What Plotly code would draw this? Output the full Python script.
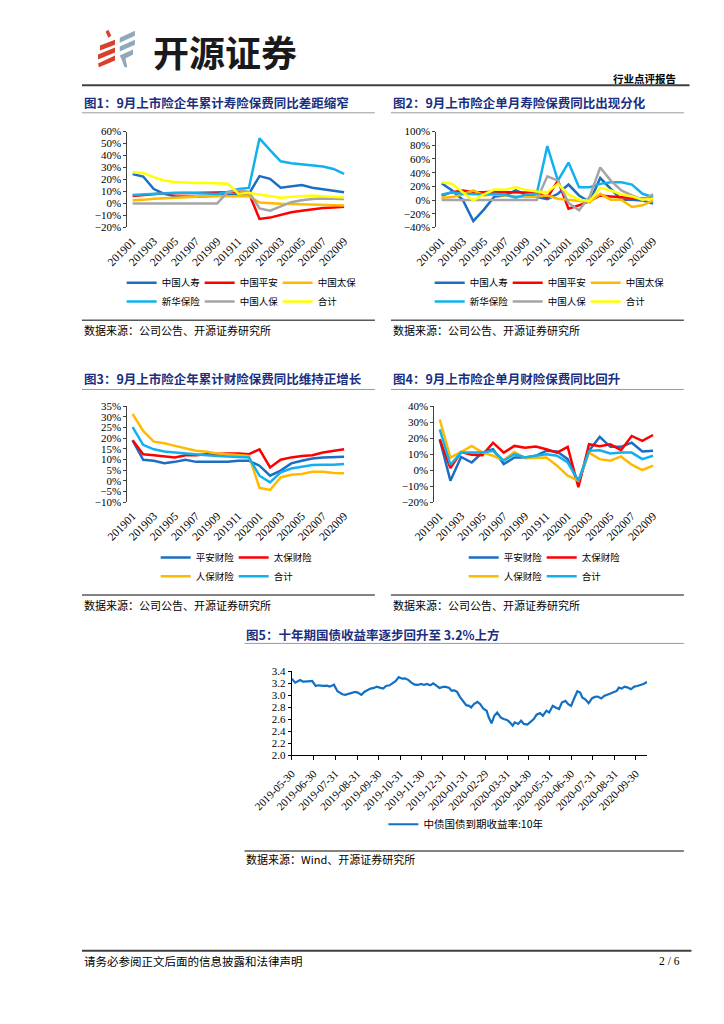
import plotly.graph_objects as go

# Page is 724x1024; the browser's default 8px body margin surrounds the figure,
# so the figure is 708x1008 and page coordinates are shifted by 8px.
PAGE_W, PAGE_H, OFF = 724, 1024, 8
W, H = PAGE_W - 2 * OFF, PAGE_H - 2 * OFF
def PX(x): return (x - OFF) / W
def PY(y): return 1 - (y - OFF) / H

# ---------------- data ----------------
months = ['201901', '201902', '201903', '201904', '201905', '201906', '201907',
          '201908', '201909', '201910', '201911', '201912', '202001', '202002',
          '202003', '202004', '202005', '202006', '202007', '202008', '202009']
tick_months = ['201901', '201903', '201905', '201907', '201909', '201911',
               '202001', '202003', '202005', '202007', '202009']

life_names = ['中国人寿', '中国平安', '中国太保', '新华保险', '中国人保', '合计']
pc_names = ['平安财险', '太保财险', '人保财险', '合计']

# Fig 1: cumulative life premium YoY (%)
c1_clife = [24.5, 22.5, 12.0, 8.0, 6.0, 5.5, 5.5, 6.0, 6.5, 7.0, 7.0, 8.0, 22.8, 20.6, 13.2, 14.6, 15.4, 13.2, 12.1, 11.0, 9.3]
c1_pingan = [6.3, 7.0, 8.2, 8.5, 8.5, 8.8, 9.0, 9.0, 9.2, 9.3, 9.3, 8.5, -12.9, -11.8, -9.6, -7.4, -6.0, -4.7, -3.8, -3.3, -2.7]
c1_cpic = [2.7, 3.0, 4.0, 4.5, 5.0, 5.5, 6.0, 6.0, 6.0, 6.0, 6.0, 6.0, 0.8, 0.0, -0.3, -0.5, -0.8, -1.0, -1.2, -1.5, -1.8]
c1_nci = [7.0, 7.5, 8.5, 9.0, 9.0, 9.0, 8.5, 8.0, 8.0, 9.5, 12.0, 13.0, 54.4, 44.5, 35.2, 33.5, 32.4, 31.6, 30.8, 28.8, 24.7]
c1_picc = [0, 0, 0, 0, 0, 0, 0, 0, 0, 9.6, 11.0, 9.6, -4.1, -6.0, -2.2, 1.1, 2.7, 3.8, 4.1, 3.8, 3.8]
c1_total = [26.1, 25.5, 22.0, 19.2, 17.9, 17.3, 17.0, 17.0, 17.0, 16.5, 8.2, 8.8, 7.4, 6.0, 4.7, 5.5, 6.3, 6.6, 6.0, 5.5, 4.9]

# Fig 2: monthly life premium YoY (%)
c2_clife = [24.5, 14.0, 0.5, -30.8, -14.0, 5.3, 6.7, 14.0, 7.7, 4.3, 1.4, 9.1, 22.6, 6.7, -2.9, 32.2, 16.3, 0.5, 0.5, -0.5, -5.3]
c2_pingan = [6.7, 11.5, 14.0, 11.5, 11.5, 12.5, 11.5, 11.5, 11.5, 10.6, 3.4, 28.4, -12.5, -7.7, -1.4, 6.7, 5.3, 4.3, 3.4, 1.9, 3.4]
c2_cpic = [3.4, 4.3, 8.2, 14.0, 6.7, 8.2, 6.7, 5.3, 4.3, 5.3, 6.7, 1.9, 0.5, -1.4, -2.9, 9.1, 0.5, 0.5, -10.1, -7.7, -0.5]
c2_nci = [7.7, 11.5, 9.1, 8.2, 8.2, 9.1, 8.2, 3.4, 8.2, 9.1, 78.8, 28.4, 54.8, 18.8, 18.8, 23.6, 26.0, 26.0, 22.6, 9.1, 4.3]
c2_picc = [0, 0, 0, 0, 0, 0, 0, 0, 0, 0, 34.6, 28.4, -4.3, -14.9, 5.0, 47.6, 28.4, 14.0, 6.7, 0.5, 8.2]
c2_total = [26.0, 23.6, 11.5, -0.5, 8.2, 15.4, 14.9, 18.8, 14.9, 12.5, 11.5, 23.6, 8.2, 0.5, -1.4, 17.8, 14.0, 8.2, 5.3, 0.5, 1.9]

# Fig 3: cumulative P&C premium YoY (%)
c3_pa = [19.0, 9.9, 9.4, 8.3, 8.9, 9.9, 8.9, 8.9, 8.6, 8.9, 9.4, 9.4, 7.1, 2.4, 4.8, 8.2, 9.4, 10.5, 11.0, 11.0, 11.3]
c3_cpic = [19.0, 12.5, 12.0, 11.4, 11.0, 12.0, 12.0, 12.5, 12.8, 12.8, 12.8, 12.5, 14.8, 6.3, 9.9, 11.0, 11.7, 12.0, 13.3, 14.1, 14.8]
c3_picc = [31.4, 23.4, 18.4, 17.6, 16.4, 15.2, 14.1, 13.6, 12.8, 12.5, 12.0, 11.7, -3.3, -4.3, 1.6, 2.8, 3.2, 4.3, 4.3, 3.7, 3.5]
c3_total = [25.2, 16.9, 14.8, 13.8, 13.3, 12.8, 12.2, 12.0, 11.7, 11.4, 11.3, 11.0, 2.4, -0.7, 4.0, 5.8, 6.6, 7.4, 7.5, 7.5, 7.9]

# Fig 4: monthly P&C premium YoY (%)
c4_pa = [19.3, -6.6, 8.3, 4.8, 11.0, 13.1, 3.8, 7.9, 7.9, 9.0, 12.1, 11.7, 6.9, -8.2, 12.1, 20.8, 14.6, 14.6, 17.2, 11.7, 12.1]
c4_cpic = [19.3, 1.3, 11.4, 9.6, 9.4, 17.2, 11.0, 15.2, 14.1, 14.8, 13.1, 11.0, 14.6, -10.7, 16.2, 15.0, 16.2, 12.5, 21.4, 18.3, 22.0]
c4_picc = [31.7, 7.9, 11.4, 15.2, 11.0, 9.0, 6.3, 11.4, 7.5, 7.5, 7.9, 2.8, -3.4, -6.6, 11.0, 6.9, 5.9, 8.6, 3.4, 0.1, 2.8]
c4_total = [25.5, 3.4, 11.0, 11.0, 11.0, 12.1, 5.9, 10.0, 7.9, 9.0, 10.0, 9.0, 4.8, -6.6, 12.1, 12.5, 10.4, 11.0, 11.0, 6.9, 9.0]

# Fig 5: 10Y China government bond yield (%)
bond_dates = ['2019-05-30', '2019-06-04', '2019-06-11', '2019-06-15', '2019-06-22', '2019-06-28',
              '2019-07-03', '2019-07-07', '2019-07-14', '2019-07-19', '2019-07-23', '2019-07-29',
              '2019-08-03', '2019-08-10', '2019-08-14', '2019-08-19', '2019-08-23', '2019-08-28',
              '2019-09-01', '2019-09-06', '2019-09-10', '2019-09-15', '2019-09-19', '2019-09-24',
              '2019-09-28', '2019-10-02', '2019-10-07', '2019-10-11', '2019-10-16', '2019-10-20',
              '2019-10-25', '2019-10-29', '2019-11-03', '2019-11-07', '2019-11-12', '2019-11-16',
              '2019-11-21', '2019-11-25', '2019-11-30', '2019-12-04', '2019-12-08', '2019-12-13',
              '2019-12-17', '2019-12-22', '2019-12-26', '2019-12-31', '2020-01-04', '2020-01-09',
              '2020-01-12', '2020-01-16', '2020-01-20', '2020-01-24', '2020-01-29', '2020-02-02',
              '2020-02-06', '2020-02-09', '2020-02-13', '2020-02-18', '2020-02-22', '2020-02-26',
              '2020-03-02', '2020-03-05', '2020-03-09', '2020-03-13', '2020-03-17', '2020-03-22',
              '2020-03-26', '2020-03-31', '2020-04-04', '2020-04-08', '2020-04-11', '2020-04-16',
              '2020-04-20', '2020-04-24', '2020-04-29', '2020-05-03', '2020-05-08', '2020-05-12',
              '2020-05-17', '2020-05-21', '2020-05-26', '2020-05-30', '2020-06-04', '2020-06-08',
              '2020-06-13', '2020-06-17', '2020-06-22', '2020-06-26', '2020-06-30', '2020-07-05',
              '2020-07-09', '2020-07-13', '2020-07-16', '2020-07-21', '2020-07-25', '2020-07-30',
              '2020-08-03', '2020-08-07', '2020-08-12', '2020-08-16', '2020-08-21', '2020-08-25',
              '2020-08-30', '2020-09-03', '2020-09-06', '2020-09-10', '2020-09-14', '2020-09-19',
              '2020-09-23', '2020-09-28', '2020-10-02', '2020-10-07', '2020-10-11', '2020-10-16']
bond_yield = [3.273, 3.207, 3.250, 3.224, 3.230, 3.235, 3.152, 3.163, 3.152, 3.158, 3.141, 3.174,
              3.064, 3.014, 3.003, 3.020, 3.042, 3.053, 3.042, 3.003, 3.053, 3.086, 3.108, 3.119,
              3.141, 3.124, 3.108, 3.152, 3.163, 3.196, 3.235, 3.300, 3.273, 3.279, 3.250, 3.207,
              3.174, 3.169, 3.185, 3.169, 3.185, 3.163, 3.196, 3.152, 3.119, 3.136, 3.136, 3.119,
              3.075, 3.080, 3.053, 2.970, 2.888, 2.832, 2.820, 2.794, 2.849, 2.888, 2.849, 2.777,
              2.739, 2.629, 2.530, 2.656, 2.711, 2.629, 2.601, 2.585, 2.546, 2.491, 2.546, 2.519,
              2.574, 2.519, 2.507, 2.546, 2.601, 2.673, 2.700, 2.656, 2.739, 2.711, 2.821, 2.794,
              2.766, 2.877, 2.904, 2.849, 2.821, 2.959, 3.064, 3.042, 2.959, 2.921, 2.866, 2.948,
              2.970, 2.976, 2.943, 2.987, 3.003, 3.025, 3.053, 3.069, 3.124, 3.108, 3.141, 3.124,
              3.097, 3.141, 3.152, 3.169, 3.185, 3.218]
bond_ticks = ['2019-05-30', '2019-06-30', '2019-07-31', '2019-08-31', '2019-09-30', '2019-10-31',
              '2019-11-30', '2019-12-31', '2020-01-31', '2020-02-29', '2020-03-31', '2020-04-30',
              '2020-05-31', '2020-06-30', '2020-07-31', '2020-08-31', '2020-09-30']
bond_name = '中债国债到期收益率:10年'

# ---------------- style ----------------
DBLUE, RED, ORANGE, LBLUE, GRAY, YELLOW = '#1B6EC2', '#FF0000', '#FFBA00', '#12B0EE', '#A5A5A5', '#FFFF00'
life_colors = [DBLUE, RED, ORANGE, LBLUE, GRAY, YELLOW]
pc_colors = [DBLUE, RED, ORANGE, LBLUE]
SERIF = 'Liberation Serif, Noto Sans CJK SC'
CJK = 'Noto Sans CJK SC'
TICKF = dict(family=SERIF, size=11, color='#000000')
NAVY = '#1A2F7F'

fig = go.Figure()
layout = {}

def axn(n):
    return '' if n == 1 else str(n)

def month_chart(n, ov, x0, x1, ytop, ybot, yr, dt):
    s, o = axn(n), axn(ov)
    layout['xaxis' + s] = dict(domain=[PX(x0), PX(x1)], anchor='y' + s, type='category',
                               categoryorder='array', categoryarray=months, range=[-0.5, 20.5],
                               tickmode='array', tickvals=tick_months, tickangle=-45,
                               showline=False, ticks='', showgrid=False, zeroline=False,
                               tickfont=dict(family=SERIF, size=11.5, color='#000'),
                               ticklabelstandoff=4)
    layout['yaxis' + s] = dict(domain=[PY(ybot), PY(ytop)], anchor='x' + s, range=yr,
                               tick0=0, dtick=dt, ticksuffix='%', showline=True,
                               linecolor='#404040', linewidth=1, ticks='outside', ticklen=3,
                               tickcolor='#404040', showgrid=False, zeroline=False, tickfont=TICKF)
    pos = PY(ybot) + (0 - yr[0]) / (yr[1] - yr[0]) * (PY(ytop) - PY(ybot))
    layout['xaxis' + o] = dict(overlaying='x' + s, anchor='free', position=pos,
                               range=[-0.5, 20.5], tickmode='array',
                               tickvals=[i - 0.5 for i in range(len(months) + 1)],
                               ticks='outside', ticklen=3, tickcolor='#595959',
                               showticklabels=False, showline=True, linecolor='#7F7F7F',
                               linewidth=1.5, showgrid=False, zeroline=False,
                               layer='below traces')

def leg(x, y, size=9.5, ew=33):
    d = dict(orientation='h', x=PX(x), y=PY(y), xanchor='left', yanchor='middle',
             font=dict(family=CJK, size=size, color='#000'), bgcolor='rgba(0,0,0,0)',
             itemwidth=30, borderwidth=0, tracegroupgap=0)
    if ew:
        d.update(entrywidth=ew, entrywidthmode='pixels')
    return d

def add_lines(n, names, colors, data, legs):
    s = axn(n)
    for i, (nm, c, v) in enumerate(zip(names, colors, data)):
        fig.add_trace(go.Scatter(x=months, y=v, name=nm, mode='lines',
                                 line=dict(color=c, width=2.5), xaxis='x' + s, yaxis='y' + s,
                                 legend=legs[0] if i < (len(names) + 1) // 2 else legs[1],
                                 showlegend=True))

# Fig 1
month_chart(1, 6, 93, 328, 127, 224, [-20, 60], 10)
add_lines(1, life_names, life_colors, [c1_clife, c1_pingan, c1_cpic, c1_nci, c1_picc, c1_total],
          ['legend', 'legend2'])
# Fig 2
month_chart(2, 7, 420, 655, 127, 224, [-40, 100], 20)
add_lines(2, life_names, life_colors, [c2_clife, c2_pingan, c2_cpic, c2_nci, c2_picc, c2_total],
          ['legend3', 'legend4'])
# Fig 3
month_chart(3, 8, 93, 328, 405, 502, [-10, 35], 5)
add_lines(3, pc_names, pc_colors, [c3_pa, c3_cpic, c3_picc, c3_total], ['legend5', 'legend6'])
# Fig 4
month_chart(4, 9, 418, 655, 405, 502, [-20, 40], 10)
add_lines(4, pc_names, pc_colors, [c4_pa, c4_cpic, c4_picc, c4_total], ['legend7', 'legend8'])

# Fig 5
fig.add_trace(go.Scatter(x=bond_dates, y=bond_yield, name=bond_name, mode='lines',
                         line=dict(color='#1270C4', width=2.2), xaxis='x5', yaxis='y5',
                         legend='legend9', showlegend=True))
layout['xaxis5'] = dict(domain=[PX(267), PX(643)], anchor='y5', type='date',
                        range=['2019-05-30', '2020-10-16'], tickmode='array',
                        tickvals=bond_ticks, ticktext=bond_ticks, tickangle=-45,
                        showline=True, linecolor='#000', linewidth=1, ticks='outside',
                        ticklen=4, tickcolor='#000', showgrid=False, zeroline=False,
                        tickfont=dict(family=SERIF, size=11, color='#000'), ticklabelstandoff=3)
layout['yaxis5'] = dict(domain=[PY(758), PY(673)], anchor='x5', range=[2.0, 3.4], tick0=2.0,
                        dtick=0.2, tickformat='.1f', showline=True, linecolor='#000',
                        linewidth=1, ticks='outside', ticklen=3, tickcolor='#000',
                        showgrid=False, zeroline=False, tickfont=TICKF)

# legends (x = left edge of the first line sample minus 5px)
layout['legend'] = leg(87, 280)
layout['legend2'] = leg(87, 299)
layout['legend3'] = leg(413, 280)
layout['legend4'] = leg(413, 299)
layout['legend5'] = leg(123, 558)
layout['legend6'] = leg(123, 577)
layout['legend7'] = leg(449, 558)
layout['legend8'] = leg(449, 577)
layout['legend9'] = leg(364, 828, 10.5, None)

# ---------------- page furniture ----------------
ann = []
def text(x, y, t, size, color='#000', family=CJK, anchor='left'):
    ann.append(dict(x=PX(x), y=PY(y), xref='paper', yref='paper', text=t, showarrow=False,
                    xanchor=anchor, yanchor='middle', font=dict(family=family, size=size, color=color)))

text(118, 45, '<b>开源证券</b>', 36, '#1A1A1A')
text(676, 73, '<b>行业点评报告</b>', 10.5, '#000', anchor='right')
text(45, 98, '<b>图1：9月上市险企年累计寿险保费同比差距缩窄</b>', 12.5, NAVY)
text(372, 98, '<b>图2：9月上市险企单月寿险保费同比出现分化</b>', 12.5, NAVY)
text(45, 377, '<b>图3：9月上市险企年累计财险保费同比维持正增长</b>', 12.5, NAVY)
text(372, 377, '<b>图4：9月上市险企单月财险保费同比回升</b>', 12.5, NAVY)
text(217, 636, '<b>图5：十年期国债收益率逐步回升至 3.2%上方</b>', 12.5, NAVY)
text(45, 328, '数据来源：公司公告、开源证券研究所', 11)
text(372, 328, '数据来源：公司公告、开源证券研究所', 11)
text(45, 606, '数据来源：公司公告、开源证券研究所', 11)
text(372, 606, '数据来源：公司公告、开源证券研究所', 11)
text(217, 863, '数据来源：Wind、开源证券研究所', 11)
text(45, 966, '请务必参阅正文后面的信息披露和法律声明', 11.5)
text(680, 966, '2 / 6', 11.5, '#000', SERIF, 'right')

shapes = []
def hline(x0, x1, y, color, w):
    shapes.append(dict(type='line', xref='paper', yref='paper', x0=PX(x0), x1=PX(x1),
                       y0=PY(y), y1=PY(y), line=dict(color=color, width=w)))

hline(45, 688, 80, '#404040', 2)
hline(45, 355, 108, '#9A9A9A', 1)
hline(372, 682, 108, '#9A9A9A', 1)
hline(45, 355, 318, '#595959', 1.5)
hline(372, 682, 318, '#595959', 1.5)
hline(45, 355, 388, '#9A9A9A', 1)
hline(372, 682, 388, '#9A9A9A', 1)
hline(45, 355, 596, '#595959', 1.5)
hline(372, 682, 596, '#595959', 1.5)
hline(217, 682, 645, '#9A9A9A', 1)
hline(217, 682, 855, '#595959', 1.5)
hline(45, 690, 956, '#404040', 2)

def poly(pts, color):
    d = 'M ' + ' L '.join(f'{PX(a):.5f},{PY(b):.5f}' for a, b in pts) + ' Z'
    shapes.append(dict(type='path', xref='paper', yref='paper', path=d,
                       fillcolor=color, line=dict(width=0)))

LOGO_RED, LOGO_BLUE = '#D9402B', '#8FA8BA'
poly([(70, 26), (73, 24), (76, 30), (73, 32)], LOGO_RED)
poly([(64, 40), (80, 34), (80, 39), (64, 45)], LOGO_RED)
poly([(62, 49), (80, 42), (80, 47), (62, 54)], LOGO_RED)
poly([(62, 58), (80, 50), (80, 55), (63, 62)], LOGO_RED)
poly([(85, 32), (101, 25), (101, 30), (85, 37)], LOGO_BLUE)
poly([(85, 41), (101, 34), (101, 39), (85, 46)], LOGO_BLUE)
poly([(85, 50), (99, 44), (99, 49), (91, 53), (93, 62), (90, 62), (87, 54)], LOGO_BLUE)

fig.update_layout(width=W, height=H, margin=dict(l=0, r=0, t=0, b=0),
                  paper_bgcolor='#FFFFFF', plot_bgcolor='rgba(0,0,0,0)',
                  annotations=ann, shapes=shapes, **layout)
fig.write_html('out.html')
